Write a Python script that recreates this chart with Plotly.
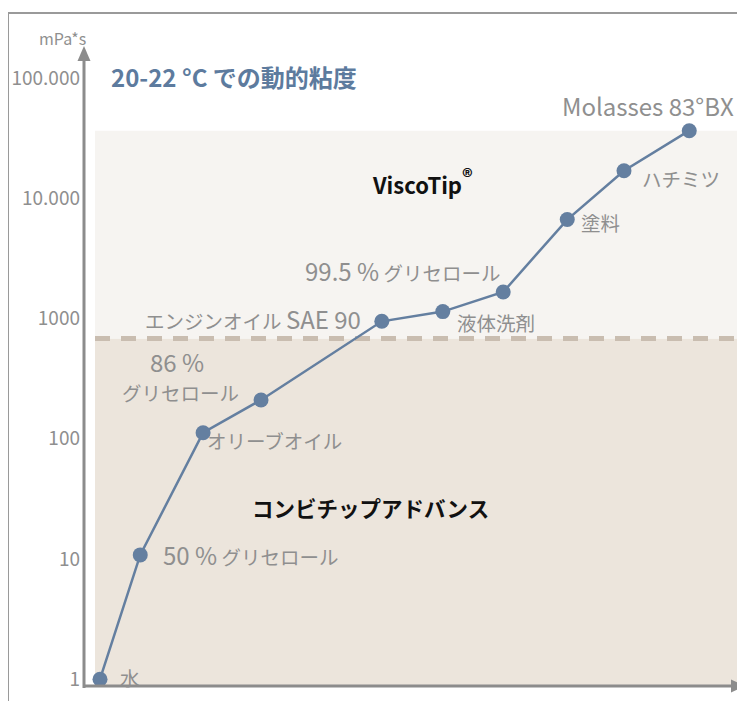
import math
import plotly.graph_objects as go

# ---------------- data ----------------
substances = ["水", "50 % グリセロール", "オリーブオイル", "86 % グリセロール",
              "エンジンオイル SAE 90", "液体洗剤", "99.5 % グリセロール",
              "塗料", "ハチミツ", "Molasses 83°BX"]
order_x = [0, 0.66, 1.69, 2.64, 4.62, 5.62, 6.61, 7.66, 8.59, 9.66]
viscosity = [1, 10.8, 112, 210, 946, 1140, 1660, 6640, 16900, 36400]
tick_vals = [1, 10, 100, 1000, 10000, 100000]
tick_text = ["1", "10", "100", "1000", "10.000", "100.000"]
boundary = 680        # ViscoTip / Combitip advanced limit
visco_top = 36400

# ---------------- layout helpers ----------------
# the page body has an 8px margin, so the figure is placed at (8, 8)
OFF = 8
W, H = 745 - OFF, 701 - OFF
FONT = "Noto Sans CJK JP"
GRAY = "#8f8f8f"
AXIS = "#8c8c8c"
BLUE = "#647fa0"

def px(x):
    return (x - OFF) / W

def py(y):
    return 1 - (y - OFF) / H

Y_RANGE = [(679.2 - 701) / 120.26, (679.2 - OFF) / 120.26]
X_RANGE = [(OFF - 100) / 61, (745 - 100) / 61]

fig = go.Figure()

fig.add_trace(go.Scatter(
    x=order_x, y=viscosity, mode="lines+markers",
    line=dict(color=BLUE, width=2.5),
    marker=dict(color=BLUE, size=15),
    hoverinfo="skip", showlegend=False, cliponaxis=False,
))

shapes = []
# zones
shapes.append(dict(type="rect", xref="paper", yref="y", x0=px(95), x1=px(742),
                   y0=10 ** -0.06, y1=boundary, fillcolor="#ece5dc",
                   line=dict(width=0), layer="below"))
shapes.append(dict(type="rect", xref="paper", yref="y", x0=px(95), x1=px(742),
                   y0=boundary, y1=visco_top, fillcolor="#f6f4f1",
                   line=dict(width=0), layer="below"))
shapes.append(dict(type="line", xref="paper", yref="y", x0=px(95), x1=px(742),
                   y0=boundary, y1=boundary,
                   line=dict(color="#c9bdb0", width=5, dash="15px,11px"), layer="below"))
# frame
shapes.append(dict(type="line", xref="paper", yref="paper", x0=px(8), x1=px(745),
                   y0=py(13), y1=py(13), line=dict(color="#9a9a9a", width=2)))
shapes.append(dict(type="line", xref="paper", yref="paper", x0=px(8), x1=px(8),
                   y0=py(13), y1=py(701), line=dict(color="#9a9a9a", width=2)))
# axes
shapes.append(dict(type="line", xref="paper", yref="paper", x0=px(84), x1=px(84),
                   y0=py(688), y1=py(58), line=dict(color=AXIS, width=3)))
shapes.append(dict(type="line", xref="paper", yref="paper", x0=px(83), x1=px(734),
                   y0=py(686), y1=py(686), line=dict(color=AXIS, width=3)))

def tri(points):
    p = " L ".join(f"{px(a):.5f},{py(b):.5f}" for a, b in points)
    return "M " + p + " Z"

shapes.append(dict(type="path", xref="paper", yref="paper",
                   path=tri([(77.5, 61), (84, 46), (90.5, 61)]),
                   fillcolor=AXIS, line=dict(width=0)))
shapes.append(dict(type="path", xref="paper", yref="paper",
                   path=tri([(731, 679.5), (745, 686), (731, 692.5)]),
                   fillcolor=AXIS, line=dict(width=0)))

def big(t):
    return f"<span style='font-size:24px'>{t}</span>"

labels = [
    # (index, text, xanchor, xshift, yshift)
    (0, "水", "left", 18, 2),
    (1, big("50 %") + " グリセロール", "left", 21, 0),
    (2, "オリーブオイル", "left", 2, -8),
    (3, big("86 %"), "center", -84, 38),
    (3, "グリセロール", "center", -81, 7),
    (4, "エンジンオイル " + big("SAE 90"), "right", -19, 3),
    (5, "液体洗剤", "left", 12, -11),
    (6, big("99.5 %") + " グリセロール", "right", 0, 21),
    (7, "塗料", "left", 12, -3),
    (8, "ハチミツ", "left", 16, -8),
    (9, big("Molasses 83°BX"), "right", 47, 25),
]

annotations = []
for i, txt, xa, xs, ys in labels:
    annotations.append(dict(
        x=order_x[i], y=math.log10(viscosity[i]), xref="x", yref="y",
        text=txt, showarrow=False, xanchor=xa, yanchor="middle",
        xshift=xs, yshift=ys, font=dict(family=FONT, size=19.5, color=GRAY)))

annotations.append(dict(x=px(88), y=py(38), xref="paper", yref="paper",
                        text="mPa*s", showarrow=False, xanchor="right", yanchor="middle",
                        font=dict(family=FONT, size=16, color=GRAY)))
annotations.append(dict(x=px(109), y=py(77), xref="paper", yref="paper",
                        text="<b>20-22 °C での動的粘度</b>", showarrow=False,
                        xanchor="left", yanchor="middle",
                        font=dict(family=FONT, size=24, color="#5d7b9e")))
annotations.append(dict(x=px(422), y=py(180), xref="paper", yref="paper",
                        text="<b>ViscoTip<sup><span style='font-size:21px'>®</span></sup></b>",
                        showarrow=False, xanchor="center", yanchor="middle",
                        font=dict(family=FONT, size=22, color="#111111")))
annotations.append(dict(x=px(370), y=py(507), xref="paper", yref="paper",
                        text="<b>コンビチップアドバンス</b>", showarrow=False,
                        xanchor="center", yanchor="middle",
                        font=dict(family=FONT, size=21.5, color="#111111")))

fig.update_layout(
    width=W, height=H, autosize=False,
    margin=dict(l=0, r=0, t=0, b=0, pad=0),
    paper_bgcolor="white", plot_bgcolor="white",
    xaxis=dict(range=X_RANGE, visible=False, fixedrange=True),
    yaxis=dict(type="log", range=Y_RANGE, showgrid=False, zeroline=False,
               showline=False, ticks="", tickvals=tick_vals, ticktext=tick_text,
               anchor="free", position=px(80), side="left",
               tickfont=dict(family=FONT, size=19, color=GRAY)),
    shapes=shapes, annotations=annotations,
)

fig.write_html("out.html")
